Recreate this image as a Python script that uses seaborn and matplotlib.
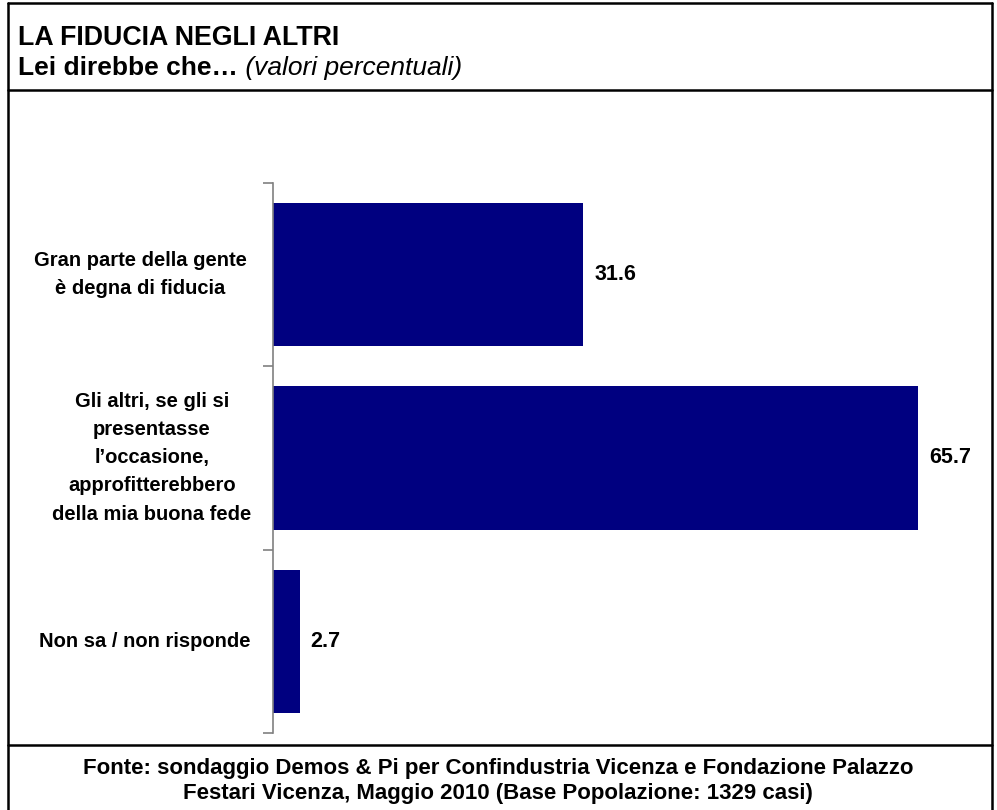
import matplotlib
matplotlib.use("Agg")
import matplotlib.pyplot as plt
import seaborn as sns
import pandas as pd
from matplotlib.lines import Line2D

categories = [
    "Gran parte della gente\nè degna di fiducia",
    "Gli altri, se gli si\npresentasse\nl\u2019occasione,\napprofitterebbero\ndella mia buona fede",
    "Non sa / non risponde",
]
values = [31.6, 65.7, 2.7]
value_labels = ["31.6", "65.7", "2.7"]

title = "LA FIDUCIA NEGLI ALTRI"
subtitle_bold = "Lei direbbe che\u2026"
subtitle_italic = " (valori percentuali)"
footer = ("Fonte: sondaggio Demos & Pi per Confindustria Vicenza e Fondazione Palazzo\n"
          "Festari Vicenza, Maggio 2010 (Base Popolazione: 1329 casi)")

sns.set_theme(style="white")
plt.rcParams['font.family'] = ['Liberation Sans', 'DejaVu Sans']

W, H = 997, 810
fig = plt.figure(figsize=(W / 100, H / 100), dpi=100)

df = pd.DataFrame({"cat": categories, "val": values})

ax = fig.add_axes([273 / W, 1 - 733 / H, (990 - 273) / W, (733 - 183) / H])
sns.barplot(data=df, y="cat", x="val", orient="h", color="#000080",
            saturation=1, width=0.78, ax=ax, edgecolor="none")
ax.set_xlim(0, 73)
ax.set_ylim(2.5, -0.5)
ax.set_xlabel("")
ax.set_ylabel("")
ax.set_xticks([])
for s in ["top", "right", "bottom"]:
    ax.spines[s].set_visible(False)
ax.spines["left"].set_color("#808080")
ax.spines["left"].set_linewidth(1.2)

# category ticks at band boundaries
ax.set_yticks([-0.5, 0.5, 1.5, 2.5])
ax.set_yticklabels([])
ax.tick_params(axis="y", which="major", length=7, width=1.2, color="#808080", left=True)

# category labels
label_xs = [140, 152, 145]
for i, (c, lx) in enumerate(zip(categories, label_xs)):
    y_disp = ax.transData.transform((0, i))[1]
    fig.text(lx / W, y_disp / H, c, ha="center", va="center", multialignment="center",
             fontsize=14.5, fontweight="bold", linespacing=1.6, color="black")

# value labels
for i, (v, lab) in enumerate(zip(values, value_labels)):
    ax.annotate(lab, xy=(v, i), xytext=(8, 0), textcoords="offset points",
                ha="left", va="center", fontsize=15.5, fontweight="bold", color="black")

# title & subtitle
fig.text(18 / W, 1 - 45 / H, title, ha="left", va="baseline",
         fontsize=19.3, fontweight="bold", color="black")
t1 = fig.text(18 / W, 1 - 75 / H, subtitle_bold, ha="left", va="baseline",
              fontsize=19, fontweight="bold", color="black")
fig.canvas.draw()
ax.annotate(subtitle_italic, xy=(1, 0), xycoords=t1, xytext=(0, 0),
            textcoords="offset points", ha="left", va="bottom",
            fontsize=19, fontstyle="italic", color="black", annotation_clip=False)

# footer
fig.text(498 / W, 1 - 781 / H, footer, ha="center", va="center",
         fontsize=16, fontweight="bold", linespacing=1.3, color="black")

# frame lines
lw = 1.8
def hline(y, x0=8, x1=992):
    fig.add_artist(Line2D([x0 / W, x1 / W], [1 - y / H, 1 - y / H], color="black", lw=lw))
def vline(x, y0=3, y1=810):
    fig.add_artist(Line2D([x / W, x / W], [1 - y0 / H, 1 - y1 / H], color="black", lw=lw))

hline(3)
hline(90)
hline(745)
vline(8)
vline(992)

fig.savefig("out.png", dpi=100, facecolor="white")
